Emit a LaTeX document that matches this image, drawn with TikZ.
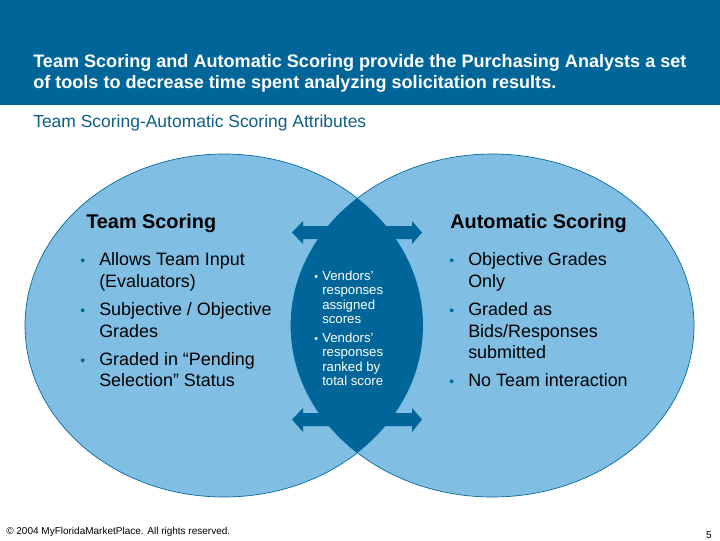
\documentclass[tikz,border=0pt]{standalone}
\usepackage{fontspec}
\setmainfont{Liberation Sans}
\definecolor{dkblue}{HTML}{006699}
\definecolor{ltblue}{HTML}{80BEE4}
\definecolor{subt}{HTML}{0F5F85}
\tikzset{
 x=0.75pt,y=-0.75pt,
 hd/.style={anchor=base west,font=\fontsize{13.55pt}{14pt}\selectfont\bfseries,text=white,inner sep=0},
 blk/.style={anchor=base west,font=\fontsize{13.45pt}{16pt}\selectfont,text=black,inner sep=0,align=left},
 captitle/.style={anchor=base west,font=\fontsize{14.9pt}{16pt}\selectfont\bfseries,text=black,inner sep=0},
 bul/.style={anchor=base west,font=\fontsize{10.5pt}{16pt}\selectfont,text=dkblue,inner sep=0},
 midt/.style={anchor=base west,font=\fontsize{9.9pt}{10pt}\selectfont,text=white,inner sep=0},
 midb/.style={anchor=base west,font=\fontsize{8pt}{10pt}\selectfont,text=white,inner sep=0},
 dbl/.style={fill=dkblue,draw=none},
 blob/.style={fill=ltblue,draw=dkblue,line width=0.5pt}
}
\begin{document}
\begin{tikzpicture}
\useasboundingbox (0,0) rectangle (720,540);
\fill[white] (0,0) rectangle (720,540);
\fill[dkblue] (0,0) rectangle (720,105);
\node[hd] (h1) at (33,67.7) {Team Scoring and Automatic Scoring provide the Purchasing Analysts a set};
\node[hd] (h2) at (33,88.7) {of tools to decrease time spent analyzing solicitation results.};
\node[anchor=base west,inner sep=0,text=subt,font=\fontsize{13.1pt}{14pt}\selectfont] (sub) at (33,127) {Team Scoring-Automatic Scoring Attributes};
\path[blob] (224,325.5) ellipse [x radius=199,y radius=171.5];
\path[blob] (492.5,325.5) ellipse [x radius=201.5,y radius=171.5];
\begin{scope}
\clip (224,325.5) ellipse [x radius=199,y radius=171.5];
\fill[dkblue] (492.5,325.5) ellipse [x radius=201.5,y radius=171.5];
\end{scope}
\fill[dbl] (292,232.5) -- (303,221) -- (303,226) -- (412,226) -- (412,221) -- (422,232.5) -- (412,244) -- (412,239) -- (303,239) -- (303,244) -- cycle;
\fill[dbl] (292,419.5) -- (303,408) -- (303,413) -- (412,413) -- (412,408) -- (422,419.5) -- (412,432) -- (412,426) -- (303,426) -- (303,432) -- cycle;
\node[captitle] (tl) at (86,228) {Team Scoring};
\node[captitle] (al) at (450,228) {Automatic Scoring};
\node[bul] at (80,265) {•};
\node[blk] at (99,265) {Allows Team Input};
\node[blk] at (99,287) {(Evaluators)};
\node[bul] at (80,315) {•};
\node[blk] at (99,315) {Subjective / Objective};
\node[blk] at (99,337) {Grades};
\node[bul] at (80,365) {•};
\node[blk] at (99,365) {Graded in “Pending};
\node[blk] at (99,386) {Selection” Status};
\node[bul] at (449,265) {•};
\node[blk] at (468,265) {Objective Grades};
\node[blk] at (468,287) {Only};
\node[bul] at (449,315) {•};
\node[blk] at (468,315) {Graded as};
\node[blk] at (468,337) {Bids/Responses};
\node[blk] at (468,358) {submitted};
\node[bul] at (449,386) {•};
\node[blk] at (468,386) {No Team interaction};
\node[midb] at (314,280) {•};
\node[midt] at (322,280) {Vendors’};
\node[midt] at (322,294) {responses};
\node[midt] at (322,309) {assigned};
\node[midt] at (322,323) {scores};
\node[midb] at (314,342) {•};
\node[midt] at (322,342) {Vendors’};
\node[midt] at (322,356) {responses};
\node[midt] at (322,371) {ranked by};
\node[midt] at (322,385.5) {total score};
\node[anchor=base west,inner sep=0,font=\fontsize{7.5pt}{8pt}\selectfont] (c) at (6,534) {© 2004 MyFloridaMarketPlace. All rights reserved.};
\node[anchor=base east,inner sep=0,font=\fontsize{7.5pt}{8pt}\selectfont] (p) at (712,538.5) {5};
\end{tikzpicture}
\end{document}
